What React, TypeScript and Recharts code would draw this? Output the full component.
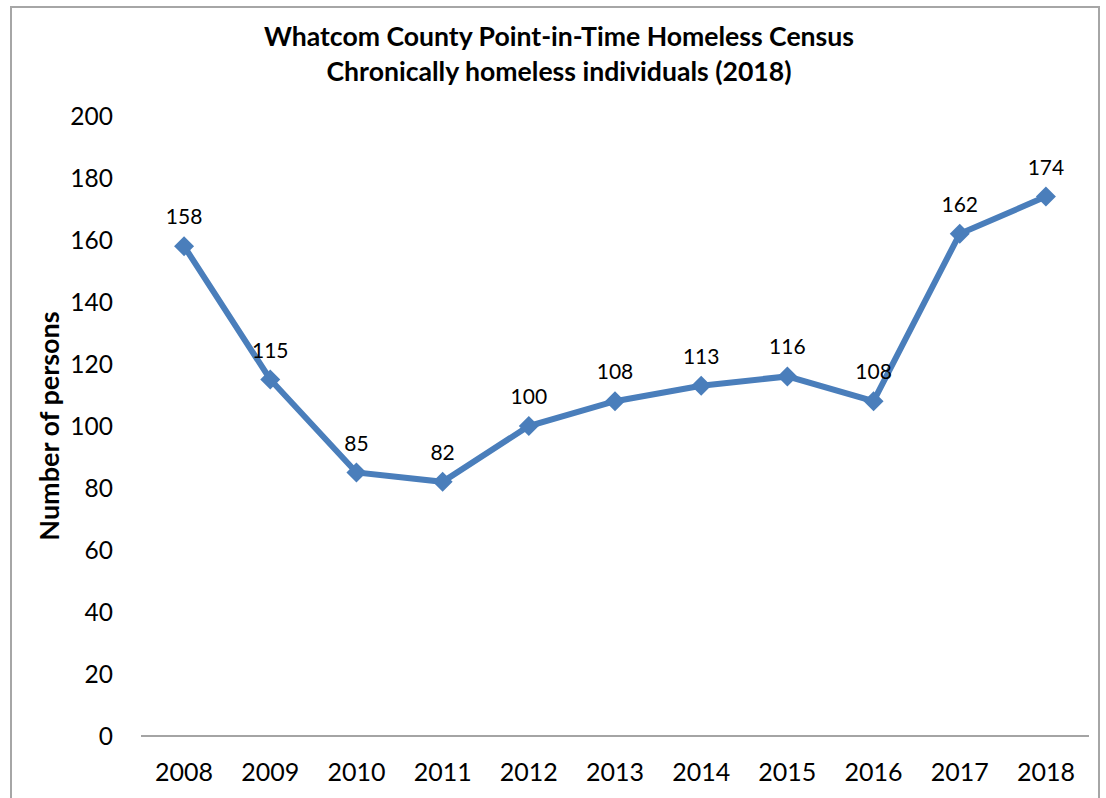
import React from 'react';
import { LineChart, Line, XAxis, YAxis, LabelList } from 'recharts';

const years = ['2008', '2009', '2010', '2011', '2012', '2013', '2014', '2015', '2016', '2017', '2018'];
const persons = [158, 115, 85, 82, 100, 108, 113, 116, 108, 162, 174];
const yTicks = [0, 20, 40, 60, 80, 100, 120, 140, 160, 180, 200];
const edgeTicks = [0, 1, 2, 3, 4, 5, 6, 7, 8, 9, 10, 11];

const titleLine1 = 'Whatcom County Point-in-Time Homeless Census';
const titleLine2 = 'Chronically homeless individuals (2018)';
const yLabel = 'Number of persons';

const data = years.map((y, i) => ({ year: y, value: persons[i] }));

const FONT = 'Lato, "Open Sans", sans-serif';
const BLUE = '#4a7ebb';
const AXIS = '#868686';

const W = 1106;
const H = 798;
const MARGIN = { top: 116, right: 17, bottom: 0, left: 20 };
const PLOT_W = W - MARGIN.left - MARGIN.right - 121;
const HALF_BAND = PLOT_W / years.length / 2;

const Diamond = (props: any) => {
  const { cx, cy } = props;
  if (cx == null || cy == null) return null;
  const r = 10;
  return (
    <path
      d={`M${cx},${cy - r}L${cx + r},${cy}L${cx},${cy + r}L${cx - r},${cy}Z`}
      fill={BLUE}
      stroke="none"
    />
  );
};

const YTitle = (props: any) => {
  const vb = props.viewBox || {};
  const x = vb.x + 28;
  const y = vb.y + vb.height / 2;
  return (
    <text
      x={x}
      y={y}
      transform={`rotate(-90 ${x} ${y})`}
      textAnchor="middle"
      dominantBaseline="central"
      fontFamily={FONT}
      fontWeight={700}
      fontSize={27}
      fill="#000"
    >
      {yLabel}
    </text>
  );
};

export default function App() {
  return (
    <div style={{ position: 'absolute', left: 0, top: 0, width: W, height: H, overflow: 'hidden', background: '#fff' }}>
      <div
        style={{
          position: 'absolute',
          left: 10,
          top: 6,
          width: 1090,
          height: 820,
          border: '2px solid #a6a6a6',
          boxSizing: 'border-box',
        }}
      />
      <div
        style={{
          position: 'absolute',
          left: 0,
          top: 19,
          width: 1118,
          textAlign: 'center',
          fontFamily: FONT,
          fontWeight: 700,
          fontSize: 26.6,
          lineHeight: '35px',
          color: '#000',
        }}
      >
        <div>{titleLine1}</div>
        <div>{titleLine2}</div>
      </div>
      <div style={{ position: 'absolute', left: 0, top: 0 }}>
        <LineChart width={W} height={H} data={data} margin={MARGIN}>
          <XAxis
            xAxisId="a_edges"
            type="number"
            domain={[0, 11]}
            ticks={edgeTicks}
            allowDataOverflow
            height={8}
            tick={false}
            tickSize={8}
            tickLine={{ stroke: AXIS, strokeWidth: 1.5 }}
            axisLine={{ stroke: AXIS, strokeWidth: 1.5 }}
          />
          <XAxis
            xAxisId="b_cat"
            dataKey="year"
            type="category"
            padding={{ left: HALF_BAND, right: HALF_BAND }}
            height={54}
            axisLine={false}
            tickLine={false}
            tickSize={6}
            tickMargin={13}
            interval={0}
            tick={{ fill: '#000', fontFamily: FONT, fontSize: 25 }}
          />
          <YAxis
            width={121}
            domain={[0, 200]}
            ticks={yTicks}
            interval={0}
            axisLine={false}
            tickLine={false}
            tickSize={6}
            tickMargin={22}
            tick={{ fill: '#000', fontFamily: FONT, fontSize: 24.5 }}
            label={<YTitle />}
          />
          <Line
            xAxisId="b_cat"
            type="linear"
            dataKey="value"
            stroke={BLUE}
            strokeWidth={6}
            dot={<Diamond />}
            activeDot={false}
            isAnimationActive={false}
          >
            <LabelList
              dataKey="value"
              position="top"
              offset={22}
              fill="#000"
              fontFamily={FONT}
              fontSize={21}
            />
          </Line>
        </LineChart>
      </div>
    </div>
  );
}
